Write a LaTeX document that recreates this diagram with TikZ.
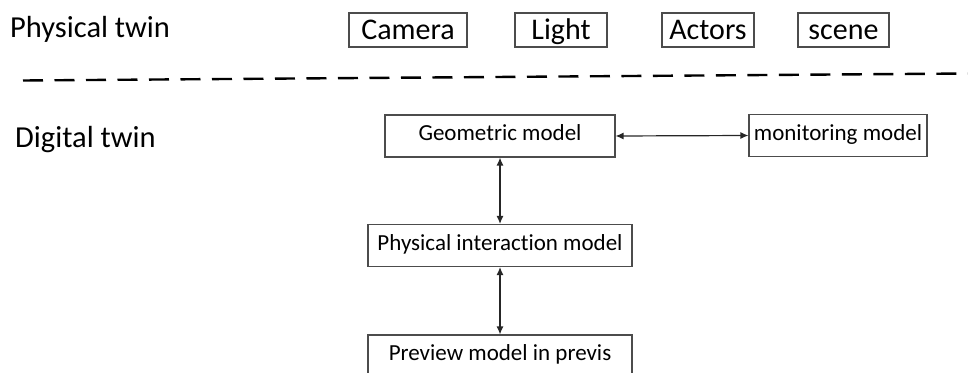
\documentclass[tikz,border=0pt]{standalone}
\usepackage{fontspec}
\setmainfont{Carlito}[Ligatures={NoCommon,NoRare}]
\usetikzlibrary{arrows.meta}
\tikzset{
  twinlabel/.style={inner sep=0pt, anchor=base west, font=\fontsize{30.5}{36}\selectfont},
  topbox/.style={draw=black!70, line width=1.1pt, minimum height=34pt, inner sep=0pt, text height=19.3pt, text depth=0pt, font=\fontsize{30}{36}\selectfont},
  modelbox/.style={draw=black!70, line width=1.1pt, minimum height=42pt, inner sep=0pt, text height=14.8pt, text depth=5.75pt, font=\fontsize{23}{28}\selectfont},
  link/.style={line width=1.2pt, draw=black!85, {Latex[length=8pt,width=7pt]}-{Latex[length=8pt,width=7pt]}},
  divider/.style={line width=2.4pt, dash pattern=on 20pt off 11.5pt}
}
\begin{document}
\begin{tikzpicture}[x=1pt,y=-1pt]
\useasboundingbox (0,0) rectangle (968,372);
\clip (0,0) rectangle (968,372);
\node[twinlabel] (pt) at (10,37.5) {Physical twin};
\node[twinlabel] (dt) at (15,147) {Digital twin};
\node[topbox, minimum width=118pt] (cam) at (408,30) {Camera};
\node[topbox, minimum width=92pt] (light) at (561,30) {Light};
\node[topbox, minimum width=92pt] (act) at (708,30) {Actors};
\node[topbox, minimum width=91pt] (scene) at (843.5,30) {scene};
\coordinate (dl) at (23,80.5);
\coordinate (dr) at (968,73.5);
\draw[divider] (dl) -- (dr);
\node[modelbox, minimum width=230pt] (geo) at (500,136) {Geometric model};
\node[modelbox, minimum width=178pt] (mon) at (838,135.5) {monitoring model};
\node[modelbox, minimum width=264pt] (phys) at (500,245.5) {Physical interaction model};
\node[modelbox, minimum width=264pt] (prev) at (500,356) {Preview model in previs};
\draw[link] (geo.east) -- (mon.west);
\draw[link] (geo.south) -- (phys.north);
\draw[link] (phys.south) -- (prev.north);
\end{tikzpicture}
\end{document}
